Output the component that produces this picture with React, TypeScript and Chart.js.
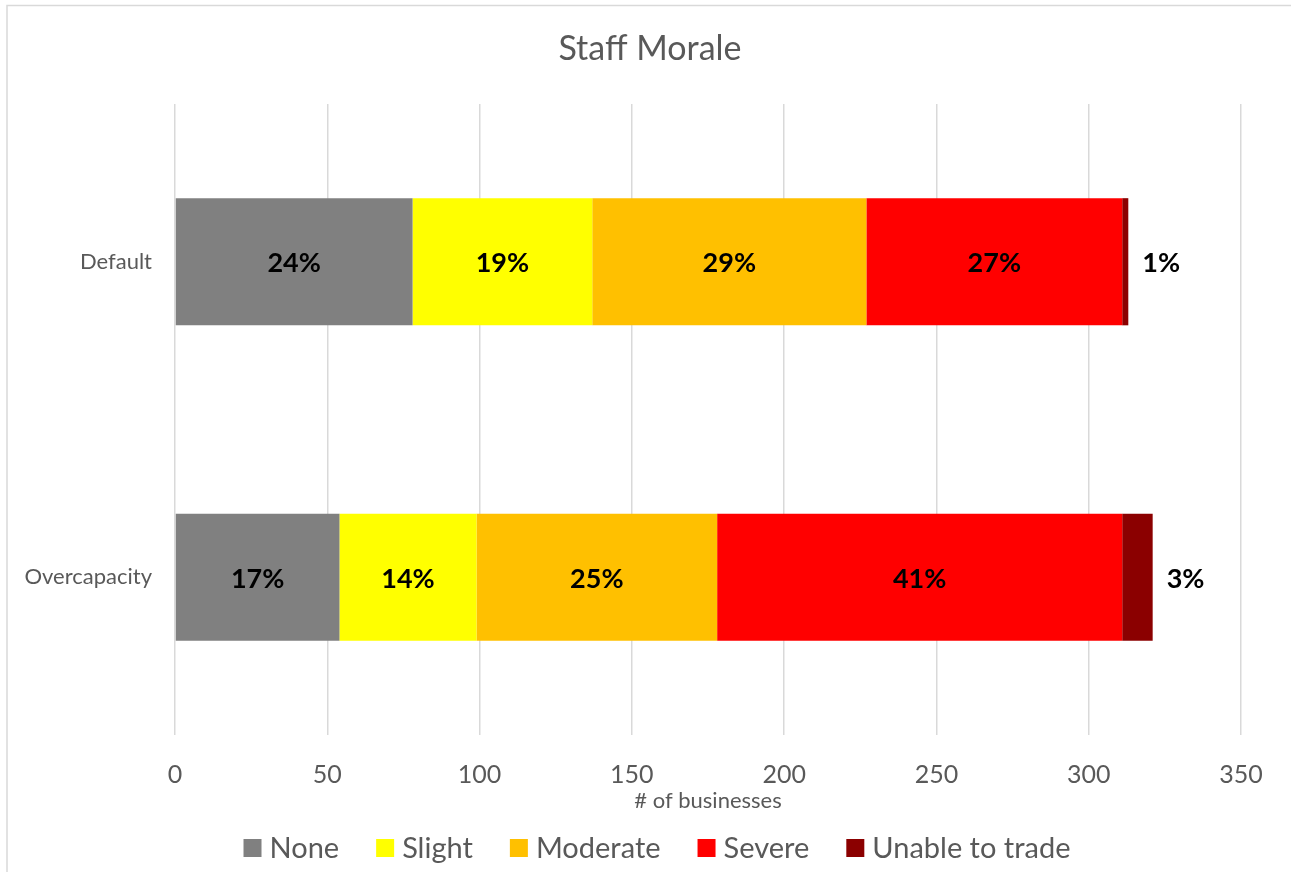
import React, { useEffect, useRef } from "react";
import { Chart, registerables } from "chart.js";

Chart.register(...registerables);

const categories = ["Default", "Overcapacity"];
const seriesNames = ["None", "Slight", "Moderate", "Severe", "Unable to trade"];
const noneValues = [78, 54];
const slightValues = [59, 45];
const moderateValues = [90, 79];
const severeValues = [84, 133];
const unableValues = [2, 10];
const noneLabels = ["24%", "17%"];
const slightLabels = ["19%", "14%"];
const moderateLabels = ["29%", "25%"];
const severeLabels = ["27%", "41%"];
const unableLabels = ["1%", "3%"];
const xTicks = [0, 50, 100, 150, 200, 250, 300, 350];
const colors = ["#808080", "#FFFF00", "#FFC000", "#FF0000", "#8B0000"];

const FONT = "Lato, 'Open Sans', sans-serif";

export default function App() {
  const ref = useRef<HTMLCanvasElement | null>(null);

  useEffect(() => {
    const canvas = ref.current;
    if (!canvas) return;
    const values = [noneValues, slightValues, moderateValues, severeValues, unableValues];
    const labels = [noneLabels, slightLabels, moderateLabels, severeLabels, unableLabels];

    const decor = {
      id: "decor",
      beforeDraw(chart: any) {
        const ctx = chart.ctx;
        ctx.save();
        ctx.fillStyle = "#ffffff";
        ctx.fillRect(0, 0, chart.width, chart.height);
        ctx.strokeStyle = "#d9d9d9";
        ctx.lineWidth = 1.5;
        ctx.beginPath();
        ctx.moveTo(7, chart.height + 5);
        ctx.lineTo(7, 5.5);
        ctx.lineTo(chart.width + 5, 5.5);
        ctx.stroke();
        ctx.restore();
      },
      afterDraw(chart: any) {
        const ctx = chart.ctx;
        ctx.save();
        // title
        ctx.fillStyle = "#595959";
        ctx.font = `34px ${FONT}`;
        ctx.textAlign = "center";
        ctx.textBaseline = "middle";
        ctx.fillText("Staff Morale", 650, 49);
        // legend
        ctx.font = `29px ${FONT}`;
        ctx.textAlign = "left";
        const box = 18;
        const gapBoxText = 8;
        const gapItems = 37;
        const widths = seriesNames.map((n) => box + gapBoxText + ctx.measureText(n).width);
        const total = widths.reduce((a, b) => a + b, 0) + gapItems * (seriesNames.length - 1);
        let x = 657 - total / 2;
        const cy = 848;
        seriesNames.forEach((n, i) => {
          ctx.fillStyle = colors[i];
          ctx.fillRect(x, cy - box / 2, box, box);
          ctx.fillStyle = "#595959";
          ctx.fillText(n, x + box + gapBoxText, cy + 1);
          x += widths[i] + gapItems;
        });
        ctx.restore();
      },
      afterDatasetsDraw(chart: any) {
        const ctx = chart.ctx;
        ctx.save();
        ctx.font = `bold 27px ${FONT}`;
        ctx.fillStyle = "#000000";
        ctx.textBaseline = "middle";
        chart.data.datasets.forEach((ds: any, i: number) => {
          const meta = chart.getDatasetMeta(i);
          meta.data.forEach((el: any, j: number) => {
            const text = labels[i][j];
            if (i === chart.data.datasets.length - 1) {
              ctx.textAlign = "left";
              ctx.fillText(text, el.x + 14, el.y + 2);
            } else {
              ctx.textAlign = "center";
              ctx.fillText(text, (el.x + el.base) / 2, el.y + 2);
            }
          });
        });
        ctx.restore();
      },
    };

    const chart = new Chart(canvas, {
      type: "bar",
      data: {
        labels: categories,
        datasets: seriesNames.map((name, i) => ({
          label: name,
          data: values[i],
          backgroundColor: colors[i],
          borderWidth: 0,
          categoryPercentage: 1,
          barPercentage: 0.403,
        })),
      },
      options: {
        indexAxis: "y",
        responsive: false,
        animation: false,
        layout: { padding: { left: 0, right: 50, top: 104, bottom: 57 } },
        plugins: {
          legend: { display: false },
          title: { display: false },
          tooltip: { enabled: false },
        },
        scales: {
          x: {
            stacked: true,
            min: 0,
            max: 350,
            afterBuildTicks(scale: any) {
              scale.ticks = xTicks.map((v) => ({ value: v }));
            },
            afterFit(scale: any) {
              scale.height = 80;
            },
            grid: { color: "#d9d9d9", lineWidth: 1.5, drawTicks: false },
            border: { display: false },
            ticks: {
              color: "#595959",
              padding: 25,
              font: { family: FONT, size: 25 },
              maxRotation: 0,
            },
            title: {
              display: true,
              text: "# of businesses",
              color: "#595959",
              font: { family: FONT, size: 22 },
              padding: { top: 0, bottom: 1 },
            },
          },
          y: {
            stacked: true,
            afterFit(scale: any) {
              scale.width = 175;
            },
            grid: { display: false, drawTicks: false },
            border: { display: false },
            ticks: {
              color: "#595959",
              padding: 23,
              font: { family: FONT, size: 22 },
            },
          },
        },
      },
      plugins: [decor],
    } as any);
    return () => chart.destroy();
  }, []);

  return (
    <div style={{ position: "absolute", left: 0, top: 0, width: 1291, height: 872 }}>
      <canvas ref={ref} width={1291} height={872} style={{ display: "block", width: 1291, height: 872 }} />
    </div>
  );
}
